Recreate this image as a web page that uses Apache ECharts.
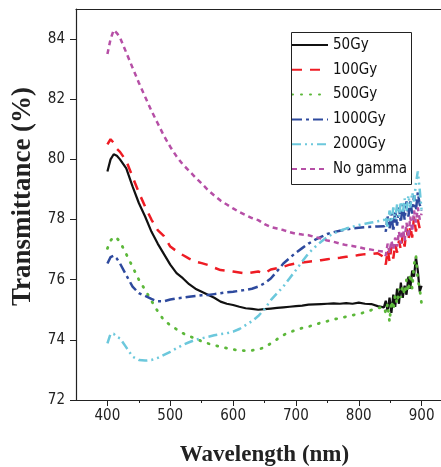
<!DOCTYPE html>
<html>
<head>
<meta charset="utf-8">
<script src="https://cdn.jsdelivr.net/npm/echarts@6/dist/echarts.min.js"></script>
<style>
html,body{margin:0;padding:0;background:#fff;}
#main{width:441px;height:467px;}
</style>
</head>
<body>
<div id="main"></div>
<script>
var wavelength=[400,405,410,415,420,430,440,450,460,470,480,490,500,510,520,530,540,550,560,570,580,590,600,610,620,630,640,650,660,670,680,690,700,710,720,730,740,750,760,770,780,790,800,810,820,830,840,
  843,846,849,852,855,858,861,864,867,870,873,876,879,882,885,888,891,894,897,900];

var gy50=[79.6,80.0,80.17,80.12,80.0,79.7,79.1,78.55,78.1,77.6,77.2,76.85,76.5,76.22,76.05,75.85,75.7,75.6,75.5,75.4,75.27,75.2,75.16,75.1,75.05,75.03,75.0,75.02,75.04,75.06,75.08,75.1,75.12,75.14,75.17,75.18,75.19,75.2,75.21,75.2,75.22,75.2,75.24,75.2,75.19,75.12,75.08,
  75.3,74.95,75.4,74.9,75.5,75.1,75.7,75.2,75.9,75.4,75.8,75.5,76.1,75.7,76.3,76.1,76.75,76.3,75.6,75.8];
var gy100=[80.5,80.67,80.55,80.35,80.25,79.95,79.42,78.9,78.43,78.0,77.65,77.45,77.1,76.95,76.82,76.7,76.6,76.55,76.49,76.4,76.32,76.3,76.27,76.24,76.21,76.24,76.27,76.21,76.34,76.38,76.43,76.5,76.54,76.57,76.6,76.62,76.65,76.68,76.71,76.73,76.76,76.78,76.82,76.85,76.85,76.88,76.75,
  76.5,77.0,76.6,77.1,76.7,77.2,76.9,77.3,77.0,77.5,77.1,77.7,77.3,77.8,77.4,78.1,77.6,78.0,77.7,77.5];
var gy500=[77.04,77.3,77.43,77.38,77.26,76.85,76.43,76.0,75.66,75.3,74.95,74.65,74.49,74.35,74.22,74.12,74.05,73.95,73.88,73.82,73.77,73.72,73.68,73.65,73.64,73.65,73.68,73.75,73.88,74.02,74.16,74.25,74.33,74.39,74.44,74.5,74.57,74.62,74.68,74.72,74.77,74.82,74.86,74.92,74.99,75.05,75.1,
  74.9,75.2,74.6,75.3,75.0,75.5,75.2,75.7,75.4,75.8,75.5,76.0,75.6,76.2,75.7,76.5,76.8,76.0,75.7,75.2];
var gy1000=[76.54,76.75,76.8,76.7,76.54,76.15,75.77,75.55,75.46,75.36,75.28,75.28,75.34,75.38,75.4,75.43,75.46,75.48,75.49,75.52,75.55,75.58,75.6,75.63,75.66,75.7,75.77,75.88,76.04,76.28,76.54,76.72,76.9,77.05,77.2,77.32,77.42,77.52,77.58,77.63,77.67,77.7,77.73,77.75,77.76,77.77,77.78,
  77.6,78.1,77.7,78.2,77.6,78.3,77.8,78.4,77.9,78.5,78.0,78.6,78.1,78.6,78.2,78.8,78.3,78.9,78.5,78.3];
var gy2000=[73.88,74.2,74.2,74.1,74.05,73.75,73.44,73.33,73.31,73.33,73.4,73.5,73.6,73.72,73.83,73.92,74.0,74.05,74.1,74.15,74.19,74.22,74.27,74.36,74.49,74.62,74.79,75.02,75.32,75.55,75.77,76.05,76.32,76.6,76.88,77.08,77.26,77.42,77.54,77.63,77.7,77.76,77.82,77.86,77.9,77.94,77.98,
  78.1,77.7,78.3,77.9,78.4,78.0,78.5,78.1,78.6,78.2,78.7,78.3,78.8,78.4,78.9,78.6,79.2,79.6,79.0,78.3];
var noGamma=[83.5,84.0,84.3,84.2,84.05,83.55,83.05,82.55,82.08,81.62,81.2,80.78,80.42,80.1,79.83,79.62,79.4,79.2,78.98,78.8,78.63,78.5,78.37,78.25,78.15,78.05,77.98,77.85,77.75,77.7,77.65,77.58,77.53,77.5,77.48,77.42,77.37,77.3,77.26,77.2,77.15,77.12,77.08,77.03,77.0,76.96,76.93,
  76.8,77.2,76.9,77.3,77.0,77.4,77.1,77.6,77.2,77.8,77.3,77.9,77.4,78.1,77.6,78.3,77.9,78.4,78.0,78.2];

var xLabels=[400,500,600,700,800,900];
var xMinor=[450,550,650,750,850];
var yLabels=[72,74,76,78,80,82,84];
var yMinor=[73,75,77,79,81,83];

var sans="'DejaVu Sans Condensed','Liberation Sans',sans-serif";
var serif="'Liberation Serif','Times New Roman',serif";

function pairs(vals){
  return wavelength.map(function(w,i){return [w,vals[i]];});
}

var chartDom=document.getElementById('main');
var myChart=echarts.init(chartDom);
var option;

var axisLine={show:true,lineStyle:{color:'#222',width:1.2}};

function line(name,vals,color,width,dash,cap){
  return {
    name:name,type:'line',symbol:'none',data:pairs(vals),
    itemStyle:{color:color},
    lineStyle:{color:color,width:width,type:dash||'solid',cap:cap||'butt'}
  };
}

option={
  animation:false,
  backgroundColor:'#fff',
  grid:{left:76,top:9,right:-12,bottom:67,outerBoundsMode:'none'},
  // legend frame drawn separately so its size does not depend on text measuring
  graphic:[{
    type:'rect',left:289,top:30,z:10,
    shape:{width:120,height:152},
    style:{fill:'none',stroke:'#222',lineWidth:1}
  }],
  legend:{
    orient:'vertical',
    left:289,
    top:30,
    padding:[6,2,5,2],
    itemWidth:36,
    itemHeight:14,
    itemGap:6.8,
    itemStyle:{opacity:0},
    textStyle:{fontFamily:sans,fontSize:15,lineHeight:18,color:'#111'},
    data:['50Gy','100Gy','500Gy','1000Gy','2000Gy','No gamma']
  },
  xAxis:[
    {
      type:'value',min:350,max:950,position:'bottom',
      axisLine:axisLine,
      splitLine:{show:false},
      axisTick:{customValues:xLabels,length:6,lineStyle:{color:'#222'}},
      axisLabel:{customValues:xLabels,margin:9,fontFamily:sans,fontSize:15,color:'#222'},
      name:'Wavelength (nm)',nameLocation:'middle',nameGap:44,
      nameTextStyle:{fontFamily:serif,fontWeight:'bold',fontSize:23,color:'#222'}
    },
    {
      type:'value',min:350,max:950,position:'bottom',
      axisLine:{show:false},splitLine:{show:false},
      axisTick:{customValues:xMinor,length:3,lineStyle:{color:'#222'}},
      axisLabel:{show:false}
    },
    {
      type:'value',min:350,max:950,position:'top',
      axisLine:axisLine,splitLine:{show:false},
      axisTick:{show:false},axisLabel:{show:false}
    }
  ],
  yAxis:[
    {
      type:'value',min:72,max:85,
      axisLine:axisLine,
      splitLine:{show:false},
      axisTick:{customValues:yLabels,length:6,lineStyle:{color:'#222'}},
      axisLabel:{customValues:yLabels,margin:11,fontFamily:sans,fontSize:15,color:'#222'},
      name:'Transmittance (%)',nameLocation:'middle',nameGap:39,
      nameTextStyle:{fontFamily:serif,fontWeight:'bold',fontSize:27,color:'#222',padding:[0,0,0,16]}
    },
    {
      type:'value',min:72,max:85,
      axisLine:{show:false},splitLine:{show:false},
      axisTick:{customValues:yMinor,length:3,lineStyle:{color:'#222'}},
      axisLabel:{show:false}
    }
  ],
  series:[
    line('50Gy',gy50,'#111',2.2),
    line('100Gy',gy100,'#ee1c24',2.5,[10,8]),
    line('500Gy',gy500,'#5cb83a',2.8,[1,8],'round'),
    line('1000Gy',gy1000,'#2e4a9e',2.5,[10,4,3,4]),
    line('2000Gy',gy2000,'#6cc8dc',2.5,[9,4,2,4,2,4]),
    line('No gamma',noGamma,'#b64fa6',2.5,[5,4])
  ]
};
myChart.setOption(option);
</script>
</body>
</html>
